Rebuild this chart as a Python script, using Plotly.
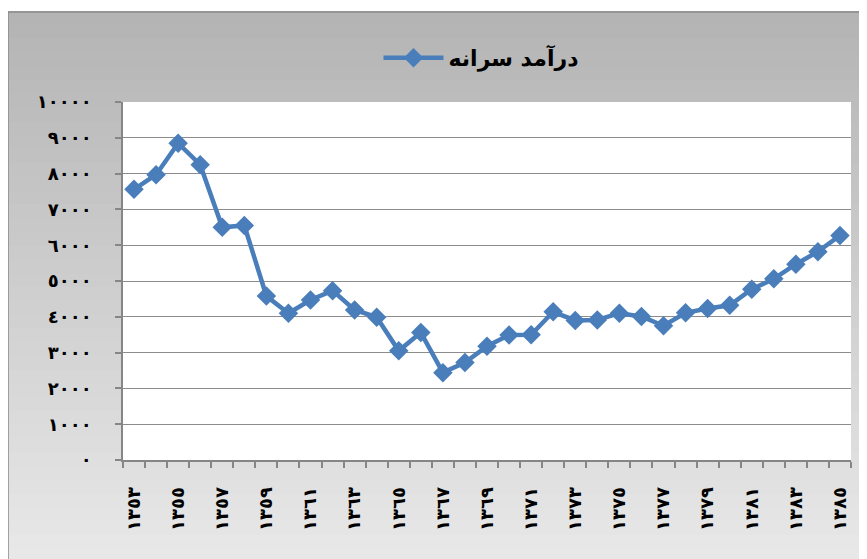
import numpy as np
import plotly.graph_objects as go

# ---- data ----
years = ["١٣٥٣", "١٣٥٤", "١٣٥٥", "١٣٥٦", "١٣٥٧", "١٣٥٨", "١٣٥٩", "١٣٦٠", "١٣٦١",
         "١٣٦٢", "١٣٦٣", "١٣٦٤", "١٣٦٥", "١٣٦٦", "١٣٦٧", "١٣٦٨", "١٣٦٩", "١٣٧٠",
         "١٣٧١", "١٣٧٢", "١٣٧٣", "١٣٧٤", "١٣٧٥", "١٣٧٦", "١٣٧٧", "١٣٧٨", "١٣٧٩",
         "١٣٨٠", "١٣٨١", "١٣٨٢", "١٣٨٣", "١٣٨٤", "١٣٨٥"]
income = [7560, 7970, 8850, 8250, 6500, 6550, 4580, 4100, 4470,
          4730, 4190, 3990, 3050, 3560, 2440, 2720, 3180, 3490,
          3500, 4140, 3900, 3910, 4100, 4010, 3750, 4110, 4230,
          4320, 4770, 5060, 5470, 5820, 6270]
series_name = "درآمد سرانه"
y_tickvals = [0, 1000, 2000, 3000, 4000, 5000, 6000, 7000, 8000, 9000, 10000]
y_ticktext = ["٠", "١٠٠٠", "٢٠٠٠", "٣٠٠٠", "٤٠٠٠", "٥٠٠٠", "٦٠٠٠", "٧٠٠٠", "٨٠٠٠", "٩٠٠٠", "١٠٠٠٠"]

idx = list(range(len(years)))
label_idx = idx[::2]
label_txt = years[::2]

# page has an 8px body margin; work in screenshot pixels and convert
OFF = 8
SW, SH = 867, 559
W, H = SW - OFF, SH - OFF
pl, pr, pt, pb = 123, 851, 102, 460   # plot area in screenshot px
ml, mr, mt, mb = pl - OFF, SW - pr, pt - OFF, SH - pb
pw = pr - pl
ph = pb - pt

def px_x(p):
    return (p - pl) / pw

def px_y(p):
    return (pb - p) / ph

fig = go.Figure()
fig.add_trace(go.Scatter(
    x=idx, y=income, mode="lines+markers", name=series_name,
    line=dict(color="#4a7ebb", width=4.5),
    marker=dict(symbol="diamond", size=15, color="#4a7ebb"),
    showlegend=True,
))

# chart area gradient background
shapes = []
top_px, bot_px = 12, SH + 5
n = 40
edges = np.linspace(top_px, bot_px, n + 1)
c0, c1 = np.array([180, 180, 180]), np.array([232, 232, 232])
for i in range(n):
    t = i / (n - 1)
    c = (c0 + (c1 - c0) * t).round().astype(int)
    shapes.append(dict(type="rect", xref="paper", yref="paper", layer="below",
                       x0=px_x(8), x1=px_x(SW + 5), y0=px_y(edges[i + 1]), y1=px_y(edges[i]) + 0.003,
                       line=dict(width=0), fillcolor=f"rgb({c[0]},{c[1]},{c[2]})"))
shapes.append(dict(type="rect", xref="paper", yref="paper", layer="below",
                   x0=px_x(8), x1=px_x(SW + 5), y0=px_y(SH + 5), y1=px_y(12),
                   line=dict(width=1.5, color="#8a8a8a"), fillcolor="rgba(0,0,0,0)"))
shapes.append(dict(type="rect", xref="paper", yref="paper", layer="below",
                   x0=0, x1=1, y0=0, y1=1, line=dict(width=0), fillcolor="white"))

fig.update_layout(
    width=W, height=H,
    margin=dict(l=ml, r=mr, t=mt, b=mb, pad=0, autoexpand=False),
    paper_bgcolor="white", plot_bgcolor="rgba(0,0,0,0)",
    font=dict(family="DejaVu Sans", size=17, color="black", weight="bold"),
    shapes=shapes,
    showlegend=True,
    legend=dict(orientation="h", x=px_x(481), xanchor="center", y=px_y(58), yanchor="middle",
                font=dict(size=22, family="DejaVu Sans", weight="bold"),
                bgcolor="rgba(0,0,0,0)", itemwidth=60),
    xaxis=dict(range=[-0.5, len(years) - 0.5], tickmode="array", tickvals=label_idx,
               ticktext=label_txt, tickangle=-90, ticks="", showgrid=False, zeroline=False,
               showline=True, linecolor="#868686", linewidth=1.5, automargin=False,
               tickfont=dict(size=18),
               minor=dict(tickmode="linear", tick0=-0.5, dtick=1, ticks="outside",
                          ticklen=6, tickcolor="#868686", tickwidth=1.5, showgrid=False),
               ticklabelstandoff=18),
    yaxis=dict(range=[0, 10000], tickmode="array", tickvals=y_tickvals, ticktext=y_ticktext,
               ticks="outside", ticklen=6, tickcolor="#868686", tickwidth=1.5,
               showgrid=True, gridcolor="#8c8c8c", gridwidth=1.2, zeroline=False,
               showline=True, linecolor="#868686", linewidth=1.5, automargin=False,
               tickfont=dict(size=18),
               ticklabelstandoff=20),
)

fig.write_html("out.html")
